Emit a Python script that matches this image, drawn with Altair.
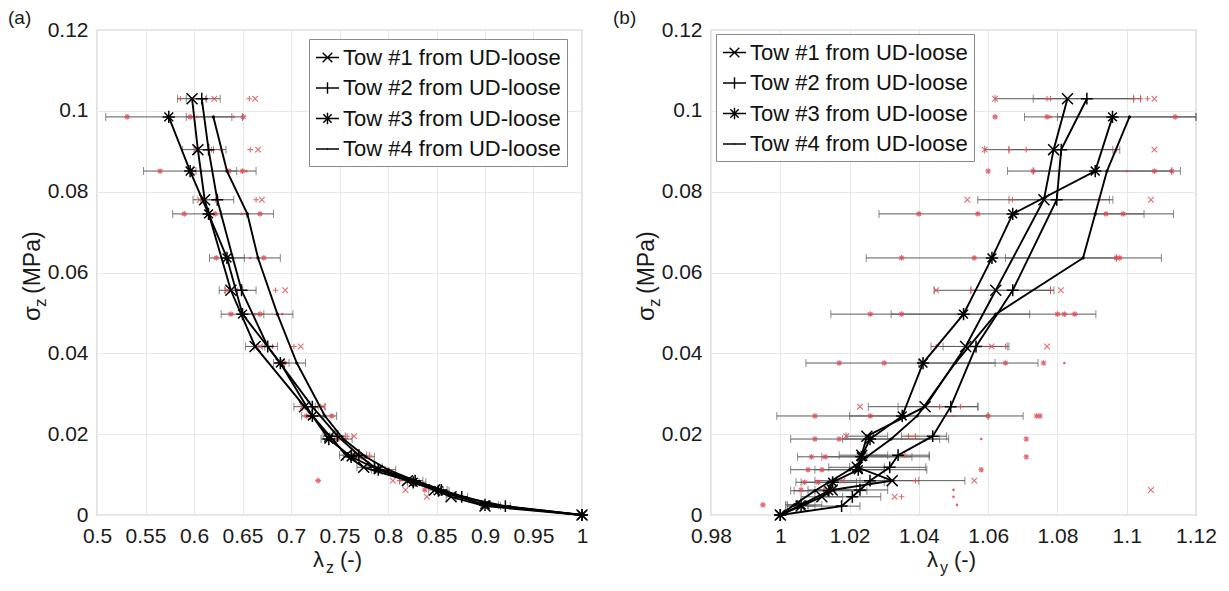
import altair as alt
import pandas as pd

FONT = "Liberation Sans"
RED = "#e0474c"
NAMES = ["Tow #1 from UD-loose", "Tow #2 from UD-loose",
         "Tow #3 from UD-loose", "Tow #4 from UD-loose"]

# stress levels (MPa)
L12 = [0.103, 0.0904, 0.078, 0.0556, 0.0417, 0.0268, 0.0195, 0.0148, 0.0118, 0.0085, 0.0062, 0.0045, 0.0022, 0.0]
L34 = [0.0985, 0.0851, 0.0745, 0.0636, 0.0497, 0.0376, 0.0245, 0.0188, 0.0144, 0.0112, 0.0081, 0.0060, 0.0025, 0.0]

# panel (a): lambda_z
A1 = [0.598, 0.604, 0.611, 0.638, 0.663, 0.714, 0.740, 0.757, 0.775, 0.820, 0.848, 0.865, 0.900, 1.0]
A2 = [0.608, 0.615, 0.624, 0.649, 0.676, 0.722, 0.748, 0.770, 0.786, 0.828, 0.855, 0.876, 0.921, 1.0]
A3 = [0.574, 0.596, 0.615, 0.634, 0.650, 0.689, 0.722, 0.739, 0.762, 0.790, 0.826, 0.852, 0.900, 1.0]
A4 = [0.620, 0.634, 0.655, 0.666, 0.686, 0.706, 0.735, 0.754, 0.777, 0.800, 0.832, 0.857, 0.908, 1.0]
A1_lo = [0.583, 0.588, 0.599, 0.626, 0.653, 0.703, 0.733, 0.750, 0.768, 0.812, 0.842, 0.860, 0.896, 1.0]
A1_hi = [0.613, 0.620, 0.625, 0.650, 0.673, 0.725, 0.747, 0.764, 0.782, 0.828, 0.854, 0.870, 0.904, 1.0]
A2_lo = [0.592, 0.600, 0.607, 0.632, 0.662, 0.712, 0.740, 0.762, 0.778, 0.820, 0.849, 0.870, 0.916, 1.0]
A2_hi = [0.627, 0.633, 0.641, 0.664, 0.686, 0.735, 0.756, 0.778, 0.794, 0.836, 0.861, 0.882, 0.926, 1.0]
A3_lo = [0.509, 0.548, 0.578, 0.616, 0.628, 0.682, 0.711, 0.731, 0.754, 0.783, 0.820, 0.847, 0.896, 1.0]
A3_hi = [0.639, 0.644, 0.654, 0.652, 0.672, 0.698, 0.733, 0.747, 0.770, 0.797, 0.832, 0.857, 0.904, 1.0]
A4_lo = [0.592, 0.602, 0.628, 0.640, 0.650, 0.690, 0.720, 0.745, 0.768, 0.792, 0.825, 0.851, 0.902, 1.0]
A4_hi = [0.650, 0.664, 0.682, 0.689, 0.702, 0.715, 0.747, 0.763, 0.786, 0.808, 0.839, 0.863, 0.914, 1.0]

# panel (b): lambda_y
B1 = [1.0829, 1.0789, 1.0761, 1.0622, 1.0535, 1.0418, 1.0250, 1.0235, 1.0222, 1.0323, 1.0150, 1.0120, 1.0060, 1.0]
B2 = [1.0885, 1.0811, 1.0798, 1.0671, 1.0565, 1.0492, 1.0440, 1.0340, 1.0316, 1.0259, 1.0230, 1.0208, 1.0177, 1.0]
B3 = [1.0959, 1.0909, 1.0671, 1.0611, 1.0529, 1.0412, 1.0352, 1.0259, 1.0234, 1.0225, 1.0151, 1.0140, 1.0060, 1.0]
B4 = [1.1008, 1.0943, 1.0909, 1.0874, 1.0622, 1.0505, 1.0395, 1.0320, 1.0250, 1.0200, 1.0140, 1.0100, 1.0040, 1.0]
B1_lo = [1.062, 1.059, 1.057, 1.0444, 1.0435, 1.0254, 1.019, 1.017, 1.014, 1.023, 1.008, 1.006, 1.002, 1.0]
B1_hi = [1.102, 1.098, 1.095, 1.078, 1.0655, 1.0571, 1.031, 1.031, 1.030, 1.0533, 1.022, 1.018, 1.010, 1.0]
B2_lo = [1.073, 1.066, 1.066, 1.055, 1.047, 1.034, 1.035, 1.025, 1.020, 1.010, 1.010, 1.010, 1.008, 1.0]
B2_hi = [1.104, 1.096, 1.096, 1.079, 1.066, 1.057, 1.048, 1.043, 1.042, 1.040, 1.031, 1.029, 1.023, 1.0]
B3_lo = [1.0705, 1.0656, 1.0285, 1.0248, 1.0146, 1.0074, 0.999, 1.003, 1.005, 1.003, 1.0045, 1.003, 1.0015, 1.0]
B3_hi = [1.12, 1.1155, 1.105, 1.097, 1.0911, 1.0744, 1.0701, 1.0486, 1.043, 1.0423, 1.030, 1.025, 1.012, 1.0]
B4_lo = [1.080, 1.073, 1.068, 1.065, 1.032, 1.040, 1.020, 1.018, 1.012, 1.010, 1.006, 1.004, 1.002, 1.0]
B4_hi = [1.12, 1.113, 1.1135, 1.110, 1.072, 1.062, 1.060, 1.046, 1.038, 1.030, 1.022, 1.016, 1.008, 1.0]

# individual specimen measurements (red); marker: 0=x, 1=+, 2=*, 3=dot
RA_x = [0.586, 0.598, 0.612, 0.621, 0.657, 0.663,
        0.531, 0.596, 0.603, 0.641, 0.651,
        0.603, 0.618, 0.628, 0.658, 0.666,
        0.565, 0.597, 0.608, 0.636, 0.650, 0.654,
        0.606, 0.622, 0.664, 0.670,
        0.590, 0.613, 0.622, 0.649, 0.668,
        0.623, 0.633, 0.658, 0.672,
        0.634, 0.645, 0.684, 0.694,
        0.638, 0.663, 0.668, 0.691,
        0.668, 0.681, 0.703, 0.710,
        0.693, 0.706,
        0.712, 0.728, 0.733,
        0.716, 0.730, 0.742,
        0.758, 0.765, 0.748, 0.757,
        0.765, 0.781, 0.773, 0.787, 0.800,
        0.728, 0.805, 0.812, 0.820,
        0.818, 0.838, 0.840]
RA_y = [0.103] * 6 + [0.0985] * 5 + [0.0904] * 5 + [0.0851] * 6 + [0.078] * 4 + [0.0745] * 5 + \
       [0.0636] * 4 + [0.0556] * 4 + [0.0497] * 4 + [0.0417] * 4 + [0.0376] * 2 + [0.0268] * 3 + \
       [0.0245] * 3 + [0.0195, 0.0195, 0.0188, 0.0188] + [0.0148, 0.0148, 0.0144, 0.0118, 0.0112] + \
       [0.0085, 0.0085, 0.0085, 0.0081] + [0.0062, 0.0062, 0.0045]
RA_m = [1, 0, 1, 0, 1, 0,
        2, 2, 3, 3, 2,
        0, 1, 1, 1, 0,
        2, 2, 3, 2, 2, 3,
        0, 1, 1, 0,
        2, 3, 2, 3, 2,
        2, 3, 3, 2,
        0, 1, 1, 0,
        2, 3, 2, 3,
        0, 1, 1, 0,
        2, 3,
        0, 1, 0,
        2, 3, 2,
        1, 0, 2, 3,
        0, 1, 2, 1, 2,
        2, 0, 1, 3,
        0, 2, 0]

RB_x = [1.062, 1.077, 1.078, 1.102, 1.104, 1.106, 1.108,
        1.062, 1.077, 1.078, 1.114,
        1.059, 1.066, 1.071, 1.097, 1.108,
        1.060, 1.073, 1.100, 1.108, 1.113,
        1.054, 1.067, 1.092, 1.107,
        1.040, 1.057, 1.094, 1.099,
        1.035, 1.056, 1.097, 1.098,
        1.045, 1.055, 1.078, 1.081,
        1.026, 1.035, 1.080, 1.082, 1.085,
        1.045, 1.061, 1.065, 1.077,
        1.017, 1.030, 1.065, 1.076, 1.082,
        1.023, 1.046, 1.052,
        1.010, 1.026, 1.050, 1.060, 1.074, 1.075,
        1.019, 1.037, 1.039,
        1.010, 1.017, 1.058, 1.071,
        1.023, 1.036,
        1.009, 1.013, 1.071,
        1.008, 1.012, 1.058,
        1.018, 1.039, 1.056,
        1.007, 1.011,
        1.107, 1.006, 1.013, 1.050,
        1.033, 1.035, 1.050,
        0.995, 1.005, 1.051]
RB_y = [0.103] * 7 + [0.0985] * 4 + [0.0904] * 5 + [0.0851] * 5 + [0.078] * 4 + [0.0745] * 4 + \
       [0.0636] * 4 + [0.0556] * 4 + [0.0497] * 5 + [0.0417] * 4 + [0.0376] * 5 + [0.0268] * 3 + \
       [0.0245] * 6 + [0.0195] * 3 + [0.0188] * 4 + [0.0148] * 2 + [0.0144] * 3 + [0.0112] * 3 + \
       [0.0085] * 3 + [0.0081] * 2 + [0.0062] * 4 + [0.0045] * 3 + [0.0025] * 3
RB_m = [0, 1, 1, 1, 1, 1, 0,
        2, 2, 3, 2,
        0, 1, 1, 1, 0,
        2, 2, 3, 2, 2,
        0, 1, 1, 0,
        2, 2, 2, 2,
        2, 2, 2, 2,
        0, 1, 1, 0,
        2, 2, 2, 2, 2,
        1, 0, 1, 0,
        2, 2, 2, 2, 3,
        0, 1, 1,
        2, 2, 3, 2, 2, 2,
        0, 1, 1,
        2, 2, 3, 2,
        1, 1,
        2, 2, 2,
        2, 2, 2,
        0, 1, 0,
        2, 2,
        0, 2, 2, 3,
        0, 1, 3,
        2, 2, 3]

Y_TICKS = [0, 0.02, 0.04, 0.06, 0.08, 0.1, 0.12]
XA_TICKS = [0.5, 0.55, 0.6, 0.65, 0.7, 0.75, 0.8, 0.85, 0.9, 0.95, 1.0]
XB_TICKS = [0.98, 1.0, 1.02, 1.04, 1.06, 1.08, 1.1, 1.12]

P_X = "M-1,-1L1,1M-1,1L1,-1"
P_PLUS = "M-1,0L1,0M0,-1L0,1"
P_STAR = "M-1,0L1,0M0,-1L0,1M-0.72,-0.72L0.72,0.72M-0.72,0.72L0.72,-0.72"
LEG = [
    "M-1,0L1,0M-0.42,-0.42L0.42,0.42M-0.42,0.42L0.42,-0.42",
    "M-1,0L1,0M0,-0.5L0,0.5",
    "M-1,0L1,0M0,-0.5L0,0.5M-0.36,-0.36L0.36,0.36M-0.36,0.36L0.36,-0.36",
    "M-1,0L1,0M-0.07,-0.07L0.07,0.07",
]

W = 485
H = 485
LBL = "format(datum.value, '.2~f')"


def txt(t, x, y, size=22, angle=0, align="left"):
    kw = dict(text=t, font=FONT, fontSize=size, align=align, baseline="alphabetic", color="#1a1a1a")
    if angle:
        kw["angle"] = angle
    return alt.Chart(pd.DataFrame({"a": [0]})).mark_text(**kw).encode(
        x=alt.value(x), y=alt.value(y))


def panel(levels, xs, los, his, rx, ry, rm, domain, ticks, legx, legy, sub, tag, tagx):
    xsc = alt.Scale(domain=domain, nice=False, zero=False)
    ysc = alt.Scale(domain=[0, 0.12], nice=False, zero=False)
    xax = alt.Axis(values=ticks, labelExpr=LBL, title=None, labelFlush=False,
                   labelOverlap=False, labelPadding=10)
    yax = alt.Axis(values=Y_TICKS, labelExpr=LBL, title=None, labelFlush=False,
                   labelOverlap=False, labelPadding=9)

    def X(f):
        return alt.X(f, type="quantitative", scale=xsc, axis=xax)

    Y = alt.Y("y:Q", scale=ysc, axis=yax)

    rows = []
    for s in range(4):
        for i, (y, x, lo, hi) in enumerate(zip(levels[s], xs[s], los[s], his[s])):
            rows.append(dict(series=NAMES[s], s=s, idx=i, y=y, x=x, lo=lo, hi=hi))
    df = pd.DataFrame(rows)
    eb = df[df.hi > df.lo]
    caps = pd.concat([eb.assign(cx=eb.lo), eb.assign(cx=eb.hi)])
    red = pd.DataFrame(dict(x=rx, y=ry, m=rm))

    layers = [
        alt.Chart(eb).mark_rule(color="#5a5a5a", strokeWidth=1).encode(x=X("lo"), x2="hi", y=Y),
        alt.Chart(caps).mark_tick(orient="vertical", size=8, thickness=1, color="#5a5a5a").encode(x=X("cx"), y=Y),
    ]
    for m, shp in enumerate([P_X, P_PLUS, P_STAR]):
        layers.append(alt.Chart(red[red.m == m]).mark_point(
            shape=shp, size=32, filled=False, color=RED, strokeWidth=1.1, opacity=0.8
        ).encode(x=X("x"), y=Y))
    layers.append(alt.Chart(red[red.m == 3]).mark_circle(size=7, color=RED, opacity=0.85).encode(x=X("x"), y=Y))
    layers.append(alt.Chart(df).mark_line(color="black", strokeWidth=1.9).encode(
        x=X("x"), y=Y, detail="s:N", order="idx:Q"))
    for s, (shp, sz) in enumerate([(P_X, 120), (P_PLUS, 140), (P_STAR, 150)]):
        layers.append(alt.Chart(df[df.s == s]).mark_point(
            shape=shp, size=sz, filled=False, color="black", strokeWidth=1.5, opacity=1
        ).encode(x=X("x"), y=Y))
    layers.append(alt.Chart(df[df.s == 3]).mark_circle(size=10, color="black", opacity=1).encode(x=X("x"), y=Y))

    leg = pd.DataFrame(dict(series=NAMES, x=[domain[0]] * 4, y=[-1.0] * 4))
    layers.append(alt.Chart(leg).mark_point(clip=True, filled=False, color="black", strokeWidth=1.4, opacity=1).encode(
        x=X("x"), y=Y,
        shape=alt.Shape("series:N", scale=alt.Scale(domain=NAMES, range=LEG),
                        legend=alt.Legend(title=None, orient="none", legendX=legx, legendY=legy,
                                          labelFont=FONT, labelFontSize=22, labelColor="#111",
                                          symbolSize=529, symbolStrokeWidth=1.4, symbolStrokeColor="black",
                                          symbolOpacity=1, padding=6, strokeColor="#8a8a8a",
                                          fillColor="white", rowPadding=6.5, labelOffset=3, labelLimit=0,
                                          cornerRadius=0))))

    # axis titles with subscripts and panel tag
    layers += [
        txt("λ", 216, H + 52),
        txt(sub, 229, H + 58, size=16),
        txt("(-)", 243, H + 52),
        txt("σ", -57.5, 291, size=24, angle=270),
        txt("z", -51.5, 277, size=17, angle=270),
        txt("(MPa)", -57.5, 264, size=23, angle=270),
        txt(tag, tagx, -6, size=19),
    ]
    return alt.layer(*layers).properties(width=W, height=H)


pA = panel([L12, L12, L34, L34], [A1, A2, A3, A4], [A1_lo, A2_lo, A3_lo, A4_lo],
           [A1_hi, A2_hi, A3_hi, A4_hi], RA_x, RA_y, RA_m, [0.5, 1.0], XA_TICKS,
           212, 9, "z", "(a)", -89)
pB = panel([L12, L12, L34, L34], [B1, B2, B3, B4], [B1_lo, B2_lo, B3_lo, B4_lo],
           [B1_hi, B2_hi, B3_hi, B4_hi], RB_x, RB_y, RB_m, [0.98, 1.12], XB_TICKS,
           5, 4, "y", "(b)", -98)

chart = alt.hconcat(pA, pB, spacing=129, bounds="flush").resolve_scale(
    x="independent", y="independent", shape="independent"
).resolve_legend(shape="independent").configure_view(
    stroke="#a0a0a0", strokeWidth=1.2
).configure_axis(
    grid=True, gridColor="#e8e8e8", gridWidth=1, domain=False, ticks=False,
    labelFont=FONT, labelFontSize=21, labelColor="#1a1a1a"
).properties(
    padding={"left": 7, "top": 8, "right": 5, "bottom": 5}, background="white"
)

chart.save("out.html", embed_options={"renderer": "svg", "actions": False})
